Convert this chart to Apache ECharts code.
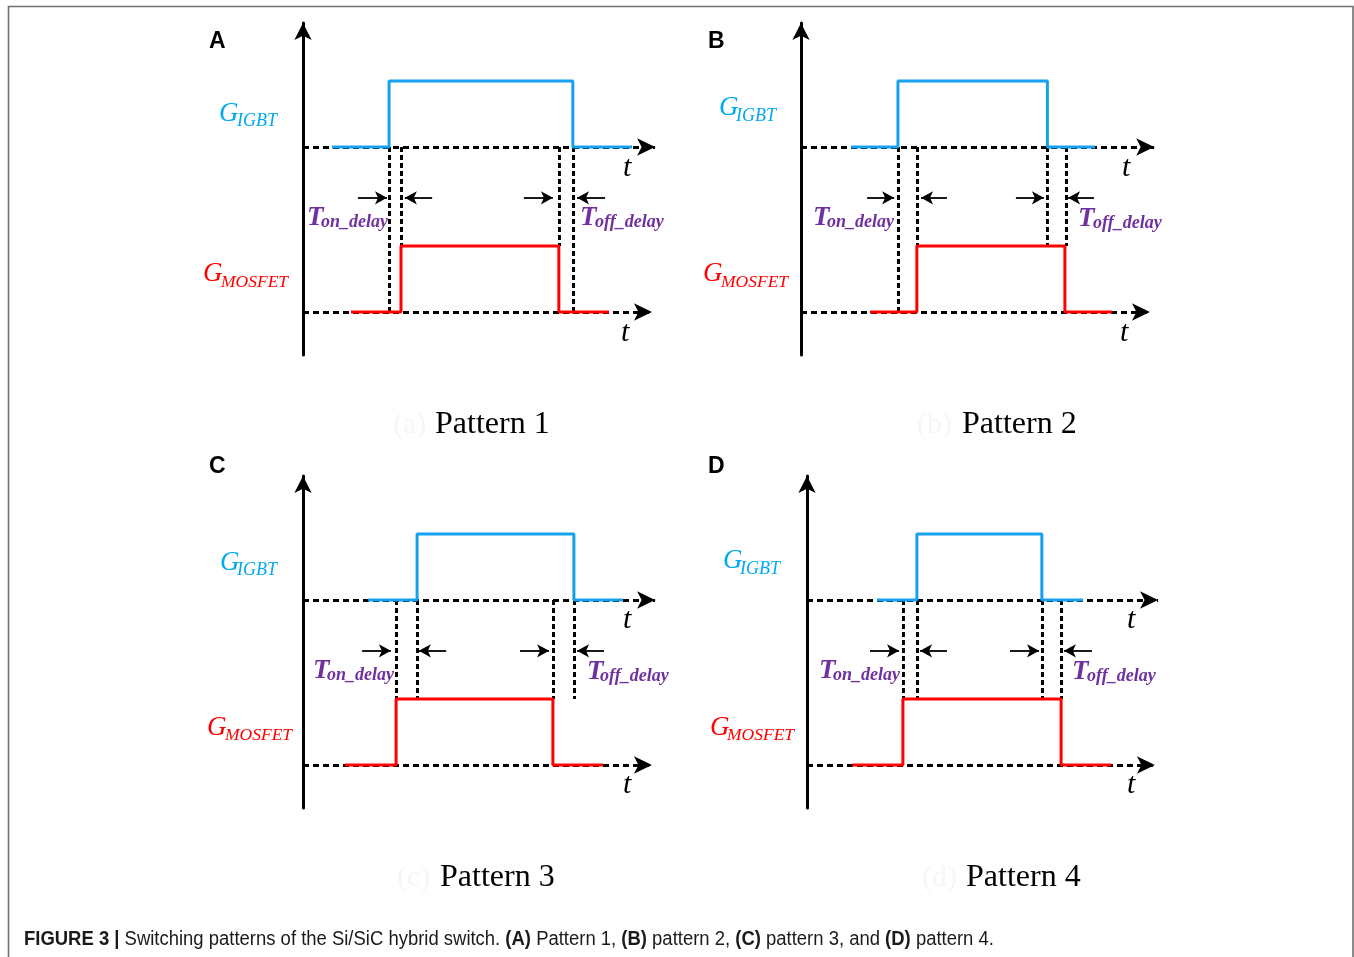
<!DOCTYPE html>
<html>
<head>
<meta charset="utf-8">
<script src="https://cdn.jsdelivr.net/npm/echarts@6/dist/echarts.min.js"></script>
<style>
  html, body { margin: 0; padding: 0; background: #fff; }
  #chart { width: 1354px; height: 957px; }
</style>
</head>
<body>
<div id="chart"></div>
<script>
// ---- Data (time in arbitrary units, gate levels in logic units) ----
const panelLetters = ['A', 'B', 'C', 'D'];
const patternNames = ['Pattern 1', 'Pattern 2', 'Pattern 3', 'Pattern 4'];
const panelGhosts = ['(a)', '(b)', '(c)', '(d)'];

// gate pulse instants per pattern: [trace start, turn-on, turn-off, trace end]
const igbtEdges = [
  [0.83, 2.46, 7.71, 9.40],
  [1.43, 2.77, 7.04, 8.40],
  [1.86, 3.26, 7.74, 9.14],
  [2.00, 3.14, 6.71, 7.89]
];
const mosfetEdges = [
  [1.37, 2.80, 7.31, 8.74],
  [1.97, 3.31, 7.54, 8.89],
  [1.20, 2.66, 7.14, 8.57],
  [1.29, 2.74, 7.26, 8.69]
];
// [low, high] levels of each gate trace
const igbtLevels = [2.5, 3.5];
const mosfetLevels = [0, 1];

// dashed switching-instant guides: [time, lower end level] (upper end on the IGBT time axis)
const guideLines = [
  [[2.46, 0], [2.80, 1], [7.31, 1], [7.71, 0]],
  [[2.77, 0], [3.31, 1], [7.04, 1], [7.57, 1]],
  [[2.66, 1], [3.26, 1], [7.14, 1], [7.74, 1]],
  [[2.74, 1], [3.14, 1], [6.71, 1], [7.26, 1]]
];
// delay dimension arrows: [tail, tip]
const delayArrows = [
  [[1.57, 2.40], [3.69, 2.91], [6.31, 7.14], [8.63, 7.83]],
  [[1.89, 2.66], [4.17, 3.43], [6.14, 6.94], [8.37, 7.63]],
  [[1.69, 2.51], [4.09, 3.31], [6.20, 7.03], [8.60, 7.83]],
  [[1.80, 2.63], [4.00, 3.23], [5.80, 6.63], [8.14, 7.34]]
];
const arrowLevel = 1.73;
// arrow tips of the two time axes: [IGBT row, MOSFET row]
const timeAxisTips = [
  [10.06, 9.97],
  [10.09, 9.97],
  [10.06, 9.97],
  [10.03, 9.94]
];

// ---- Layout ----
const UNIT_X = 35, UNIT_Y = 66;
const X_MAX = 10.5, Y_MIN = -0.65, Y_MAX = 4.38;
const panelLeft = [303, 801, 303, 807];
const panelZero = [312, 312, 765, 765];
const AXIS_HEAD = [13, 18];
const DELAY_HEAD = [10, 12];

const BLUE_LINE = '#15a1ef';
const BLUE_TEXT = '#00a9ef';
const RED = '#ff0000';
const PURPLE = '#7030a0';
const SERIF = '"Liberation Serif", "Times New Roman", serif';
const SANS = '"Liberation Sans", Arial, sans-serif';

// text anchors (left x, baseline y) per panel
const labelPos = [
  { letter: [209, 49], gI: [219, 123], gIs: [237, 127], gM: [203, 283], gMs: [221, 288],
    tOn: [307, 227], tOnS: [321, 228], tOff: [580, 227], tOffS: [595, 228],
    t1: [623, 178], t2: [621, 343], pattern: [435, 435], ghost: [393, 435] },
  { letter: [708, 49], gI: [719, 117], gIs: [736, 122], gM: [703, 283], gMs: [721, 288],
    tOn: [813, 227], tOnS: [827, 228], tOff: [1078, 228], tOffS: [1093, 229],
    t1: [1122, 178], t2: [1120, 343], pattern: [962, 435], ghost: [917, 435] },
  { letter: [209, 474], gI: [220, 572], gIs: [237, 576], gM: [207, 737], gMs: [225, 741],
    tOn: [313, 680], tOnS: [327, 681], tOff: [587, 681], tOffS: [600, 682],
    t1: [623, 630], t2: [623, 795], pattern: [440, 888], ghost: [397, 888] },
  { letter: [708, 474], gI: [723, 570], gIs: [740, 575], gM: [710, 737], gMs: [727, 741],
    tOn: [819, 680], tOnS: [833, 681], tOff: [1072, 681], tOffS: [1087, 682],
    t1: [1127, 630], t2: [1127, 795], pattern: [966, 888], ghost: [922, 888] }
];

function pulse(edges, levels) {
  const [s, on, off, e] = edges;
  const [lo, hi] = levels;
  return [[s, lo], [on, lo], [on, hi], [off, hi], [off, lo], [e, lo]];
}
function txt(pos, text, size, opt) {
  opt = opt || {};
  return {
    type: 'text', x: pos[0], y: pos[1] - 0.34 * size, silent: true, z: 10,
    style: {
      text: text, fontSize: size,
      fontFamily: opt.family || SERIF,
      fontStyle: opt.italic ? 'italic' : 'normal',
      fontWeight: opt.bold ? 'bold' : 'normal',
      fill: opt.color || '#000',
      align: 'left', verticalAlign: 'middle'
    }
  };
}

const grid = [], xAxis = [], yAxis = [], series = [], graphic = [];

// frame around the figure
graphic.push({
  type: 'rect', silent: true, z: 0,
  shape: { x: 8.5, y: 6.5, width: 1344.5, height: 1000 },
  style: { fill: 'none', stroke: '#707070', lineWidth: 1.6 }
});

for (let i = 0; i < 4; i++) {
  grid.push({
    left: panelLeft[i],
    top: panelZero[i] - Y_MAX * UNIT_Y,
    width: X_MAX * UNIT_X,
    height: (Y_MAX - Y_MIN) * UNIT_Y
  });
  xAxis.push({ gridIndex: i, type: 'value', min: 0, max: X_MAX, show: false });
  yAxis.push({
    gridIndex: i, type: 'value', min: Y_MIN, max: Y_MAX,
    axisLine: {
      show: true, onZero: false, symbol: ['none', 'arrow'], symbolSize: [13, 17],
      lineStyle: { color: '#000', width: 3 }
    },
    axisTick: { show: false }, axisLabel: { show: false }, splitLine: { show: false }
  });

  const base = { xAxisIndex: i, yAxisIndex: i, silent: true, animation: false };

  // dashed time axes with arrow heads
  series.push(Object.assign({}, base, {
    type: 'line', data: [], z: 1,
    markLine: {
      silent: true, animation: false, z: 1,
      symbol: ['none', 'arrow'], symbolSize: AXIS_HEAD,
      label: { show: false }, emphasis: { disabled: true },
      lineStyle: { color: '#000', width: 3, type: [6, 4] },
      data: [
        [{ coord: [0, igbtLevels[0]] }, { coord: [timeAxisTips[i][0], igbtLevels[0]] }],
        [{ coord: [0, mosfetLevels[0]] }, { coord: [timeAxisTips[i][1], mosfetLevels[0]] }]
      ]
    }
  }));

  // dashed guides at switching instants
  series.push(Object.assign({}, base, {
    type: 'line', data: [], z: 2,
    markLine: {
      silent: true, animation: false, z: 2, symbol: 'none',
      label: { show: false }, emphasis: { disabled: true },
      lineStyle: { color: '#000', width: 3, type: [5, 3] },
      data: guideLines[i].map(g => [{ coord: [g[0], igbtLevels[0]] }, { coord: [g[0], g[1]] }])
    }
  }));

  // delay dimension arrows
  series.push(Object.assign({}, base, {
    type: 'line', data: [], z: 3,
    markLine: {
      silent: true, animation: false, z: 3,
      symbol: ['none', 'arrow'], symbolSize: DELAY_HEAD,
      label: { show: false }, emphasis: { disabled: true },
      lineStyle: { color: '#000', width: 1.8, type: 'solid' },
      data: delayArrows[i].map(a => [{ coord: [a[0], arrowLevel] }, { coord: [a[1], arrowLevel] }])
    }
  }));

  // gate signals
  series.push(Object.assign({}, base, {
    type: 'line', z: 4, symbol: 'none',
    lineStyle: { color: BLUE_LINE, width: 3 },
    data: pulse(igbtEdges[i], igbtLevels)
  }));
  series.push(Object.assign({}, base, {
    type: 'line', z: 4, symbol: 'none',
    lineStyle: { color: RED, width: 3 },
    data: pulse(mosfetEdges[i], mosfetLevels)
  }));

  const p = labelPos[i];
  graphic.push(txt(p.letter, panelLetters[i], 23, { family: SANS, bold: true }));
  graphic.push(txt(p.gI, 'G', 27, { italic: true, color: BLUE_TEXT }));
  graphic.push(txt(p.gIs, 'IGBT', 18, { italic: true, color: BLUE_TEXT }));
  graphic.push(txt(p.gM, 'G', 27, { italic: true, color: RED }));
  graphic.push(txt(p.gMs, 'MOSFET', 17.5, { italic: true, color: RED }));
  graphic.push(txt(p.tOn, 'T', 27, { italic: true, bold: true, color: PURPLE }));
  graphic.push(txt(p.tOnS, 'on_delay', 18, { italic: true, bold: true, color: PURPLE }));
  graphic.push(txt(p.tOff, 'T', 27, { italic: true, bold: true, color: PURPLE }));
  graphic.push(txt(p.tOffS, 'off_delay', 18, { italic: true, bold: true, color: PURPLE }));
  graphic.push(txt(p.t1, 't', 30, { italic: true }));
  graphic.push(txt(p.t2, 't', 30, { italic: true }));
  graphic.push(txt(p.pattern, patternNames[i], 32));
  graphic.push(txt(p.ghost, panelGhosts[i], 30, { color: '#f6f6f6' }));
}

// figure caption
graphic.push({
  type: 'text', x: 24, y: 946 - 0.34 * 19.5, scaleX: 0.947, silent: true, z: 10,
  style: {
    text: '{b|FIGURE 3 |} Switching patterns of the Si/SiC hybrid switch. {b|(A)} Pattern 1, {b|(B)} pattern 2, {b|(C)} pattern 3, and {b|(D)} pattern 4.',
    fontSize: 19.5, fontFamily: SANS, fill: '#1a1a1a',
    align: 'left', verticalAlign: 'middle',
    rich: { b: { fontSize: 19.5, fontFamily: SANS, fontWeight: 'bold', fill: '#1a1a1a' } }
  }
});

const chart = echarts.init(document.getElementById('chart'), null, { renderer: 'canvas' });
chart.setOption({
  animation: false,
  backgroundColor: '#fff',
  grid: grid, xAxis: xAxis, yAxis: yAxis, series: series, graphic: graphic
});
</script>
</body>
</html>
